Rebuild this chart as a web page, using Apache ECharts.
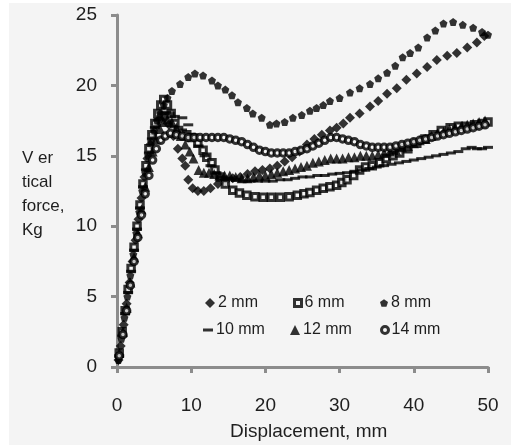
<!DOCTYPE html>
<html>
<head>
<meta charset="utf-8">
<script src="https://cdn.jsdelivr.net/npm/echarts@6/dist/echarts.min.js"></script>
<style>
  html, body { margin: 0; padding: 0; background: #fff; }
  #chart { width: 511px; height: 445px; }
</style>
</head>
<body>
<div id="chart"></div>
<script>
// displacement (mm), vertical force (Kg) pairs per bar spacing
var s2mm = [[0.2,0.5],[0.5,1.5],[0.9,3],[1.3,4.5],[1.7,6],[2.1,7.5],[2.5,9],[2.9,10.5],[3.3,12],[3.7,13.5],[4.1,14.8],[4.5,15.8],[4.9,16.6],[5.3,17.2],[5.8,17.6],[6.4,17.7],[7.0,17.2],[7.6,16.4],[8.2,15.5],[8.8,14.8],[9.2,14.3],[9.6,13.3],[10.2,12.7],[10.9,12.5],[11.7,12.5],[12.6,12.7],[13.6,13.0],[14.6,13.2],[15.6,13.4],[16.6,13.5],[17.6,13.7],[18.6,13.9],[19.6,14.0],[20.6,14.1],[21.6,14.3],[22.6,14.6],[23.6,14.9],[24.6,15.3],[25.6,15.8],[26.6,16.2],[27.6,16.5],[28.7,16.8],[29.6,17.0],[30.5,17.3],[31.4,17.7],[32.7,18.0],[34.1,18.5],[35.2,18.9],[36.4,19.4],[37.7,19.8],[39.0,20.4],[40.4,20.85],[41.8,21.3],[43.1,21.8],[44.5,22.1],[45.8,22.3],[47.2,22.7],[48.5,23.05],[49.5,23.5]];
var s6mm = [[0.3,1],[0.7,2.5],[1.1,4],[1.5,5.5],[1.9,7],[2.3,8.5],[2.7,10],[3.1,11.5],[3.5,13],[3.9,14.3],[4.3,15.5],[4.7,16.5],[5.1,17.3],[5.5,18],[5.9,18.6],[6.3,19.0],[6.8,18.6],[7.3,18.0],[7.8,17.3],[8.3,16.8],[8.8,16.6],[9.4,16.5],[10.0,16.3],[10.9,15.9],[11.6,15.4],[12.1,14.9],[12.8,14.5],[13.2,14.0],[13.9,13.5],[14.6,13.0],[15.6,12.55],[16.5,12.35],[17.5,12.2],[18.6,12.1],[19.7,12.05],[20.8,12.05],[22,12.05],[23.2,12.1],[24.3,12.2],[25.2,12.3],[26,12.4],[26.9,12.55],[27.8,12.7],[28.7,12.8],[29.6,12.9],[30.3,13.1],[31,13.3],[31.9,13.6],[32.7,14.0],[33.5,14.2],[34.4,14.3],[35.4,14.5],[36.3,14.8],[37.2,15.0],[38.1,15.2],[39.2,15.5],[40.4,15.9],[41.5,16.2],[42.6,16.5],[43.7,16.8],[44.9,17.0],[46,17.1],[47.1,17.1],[48.2,17.2],[49.2,17.3],[50,17.4]];
var s8mm = [[0.2,0.5],[0.6,2],[1,3.5],[1.4,5],[1.8,6.5],[2.2,8],[2.6,9.5],[3,11],[3.4,12.5],[3.8,13.8],[4.2,15],[4.6,16],[5,16.8],[5.4,17.5],[5.8,18],[6.3,18.6],[6.8,19.1],[7.4,19.6],[8.5,20.1],[9.6,20.6],[10.5,20.85],[11.6,20.7],[12.8,20.35],[13.6,20],[14.6,19.7],[15.5,19.3],[16.3,18.8],[17.5,18.4],[18.3,18],[19.5,17.7],[20.6,17.2],[21.5,17.3],[22.6,17.4],[23.7,17.7],[24.9,17.9],[26,18.2],[26.9,18.4],[27.8,18.6],[28.7,18.9],[30,19.1],[31.4,19.5],[32.7,19.8],[34.1,20.1],[35.2,20.5],[36.4,20.9],[37.5,21.4],[38.5,22],[39.5,22.3],[40.6,22.7],[41.8,23.4],[42.9,23.9],[44,24.4],[45.3,24.5],[46.6,24.3],[48,24.1],[49.2,23.8],[50,23.6]];
var s10mm = [[0.3,0.8],[0.7,2.2],[1.1,3.8],[1.5,5.3],[1.9,6.8],[2.3,8.3],[2.7,9.8],[3.1,11.3],[3.5,12.8],[3.9,14.0],[4.3,15.2],[4.7,16.2],[5.1,17.0],[5.6,17.6],[6.1,18.0],[6.6,18.1],[7.1,18.0],[7.8,17.8],[8.8,17.7],[9.6,17.2],[10.3,16.5],[11,15.7],[11.8,15.0],[12.6,14.3],[13.4,13.8],[14.2,13.5],[15,13.4],[16,13.3],[17,13.2],[18,13.2],[19,13.2],[20,13.2],[21,13.2],[22,13.3],[23,13.3],[24,13.4],[25,13.5],[26,13.5],[27,13.6],[28,13.6],[29,13.7],[30,13.75],[31,13.8],[32,13.9],[33,14.0],[34,14.1],[35,14.2],[36,14.3],[37,14.4],[38,14.5],[39,14.6],[40,14.7],[41,14.8],[42,14.9],[43,15.0],[44,15.1],[45,15.2],[46,15.3],[47,15.5],[47.8,15.6],[48.5,15.5],[49.2,15.5],[50,15.6]];
var s12mm = [[0.3,1],[0.8,2.5],[1.3,4.2],[1.8,6],[2.3,7.8],[2.8,9.5],[3.3,11.2],[3.8,12.8],[4.3,14.2],[4.8,15.3],[5.3,16.2],[5.8,16.9],[6.3,17.4],[6.8,17.6],[7.4,17.4],[8.0,17.0],[8.6,16.4],[9.2,15.8],[9.8,15.3],[10.3,14.8],[11,14.0],[11.7,13.8],[12.4,13.8],[13.1,13.7],[13.8,13.6],[14.5,13.6],[15.2,13.6],[16,13.5],[16.8,13.4],[17.6,13.4],[18.4,13.5],[19.2,13.6],[20,13.6],[20.8,13.7],[21.6,13.8],[22.4,13.9],[23.2,14.0],[24,14.1],[24.8,14.2],[25.6,14.3],[26.4,14.5],[27.2,14.6],[28,14.7],[28.8,14.8],[29.6,14.8],[30.4,14.8],[31.2,14.9],[32,14.9],[32.8,15.0],[33.6,15.0],[34.4,15.0],[35.2,15.1],[36,15.2],[36.8,15.3],[37.6,15.4],[38.4,15.6],[39.2,15.7],[40,15.9],[40.8,16.1],[41.6,16.2],[42.4,16.4],[43.2,16.6],[44,16.7],[44.8,16.9],[45.6,17.0],[46.4,17.1],[47.2,17.2],[48,17.3],[48.8,17.4],[49.6,17.5]];
var s14mm = [[0.3,0.8],[0.8,2.3],[1.3,4],[1.8,5.8],[2.3,7.5],[2.8,9.2],[3.3,10.8],[3.8,12.3],[4.3,13.6],[4.8,14.7],[5.3,15.5],[5.9,16.1],[6.5,16.4],[7.2,16.6],[8,16.5],[8.8,16.4],[9.6,16.3],[10.4,16.3],[11.2,16.3],[12,16.3],[12.8,16.3],[13.6,16.3],[14.4,16.3],[15.2,16.2],[16,16.1],[16.8,16.0],[17.6,15.8],[18.4,15.6],[19.2,15.4],[20,15.3],[20.8,15.2],[21.6,15.2],[22.4,15.2],[23.2,15.2],[24,15.3],[24.8,15.4],[25.6,15.5],[26.4,15.7],[27.2,15.9],[28,16.1],[28.8,16.3],[29.6,16.3],[30.4,16.2],[31.2,16.1],[32,16.0],[32.8,15.8],[33.6,15.7],[34.4,15.6],[35.2,15.6],[36,15.6],[36.8,15.6],[37.6,15.7],[38.4,15.8],[39.2,15.9],[40,16.0],[40.8,16.1],[41.6,16.2],[42.4,16.3],[43.2,16.4],[44,16.5],[44.8,16.6],[45.6,16.7],[46.4,16.8],[47.2,16.9],[48,17.0],[48.8,17.1],[49.6,17.2]];

var seriesNames = ['2 mm', '6 mm', '8 mm', '10 mm', '12 mm', '14 mm'];
var xTicks = [0, 10, 20, 30, 40, 50];
var yTicks = [0, 5, 10, 15, 20, 25];

var bg = '#f4f4f4';
var axisGrey = '#8c8c8c';
var txt = '#1e1e1e';
var font = 'Liberation Sans';
var pentagon = 'path://M0,-1 L0.95,-0.31 L0.59,0.81 L-0.59,0.81 L-0.95,-0.31 Z';

// symbol setup for each series
var marks = [
  {data: s2mm, symbol: 'diamond', size: 10, style: {color: '#000'}},
  {data: s6mm, symbol: 'rect', size: 6.5, style: {color: bg, borderColor: '#000', borderWidth: 3}},
  {data: s8mm, symbol: pentagon, size: 8, style: {color: '#000'}},
  {data: s10mm, symbol: 'rect', size: [10, 3], style: {color: '#000'}},
  {data: s12mm, symbol: 'triangle', size: 10, style: {color: '#000'}},
  {data: s14mm, symbol: 'circle', size: 6.5, style: {color: bg, borderColor: '#000', borderWidth: 3}}
];

var series = [];
marks.forEach(function(m, i){
  series.push({
    name: seriesNames[i],
    type: 'scatter',
    symbol: m.symbol,
    symbolSize: m.size,
    itemStyle: m.style,
    data: m.data,
    z: 3
  });
});

// one legend per entry so columns line up like the original
var legendPos = [
  {left: 205, top: 288, w: 10, h: 10},
  {left: 293, top: 288, w: 7, h: 7, bw: 3},
  {left: 380, top: 288, w: 8, h: 8},
  {left: 203, top: 315, w: 10, h: 3},
  {left: 290, top: 315, w: 10, h: 10},
  {left: 380, top: 315, w: 7, h: 7, bw: 3}
];
var legends = legendPos.map(function(p, i){
  var lg = {
    data: [seriesNames[i]],
    left: p.left,
    top: p.top,
    padding: 0,
    itemWidth: p.w,
    itemHeight: p.h,
    itemGap: 0,
    selectedMode: false,
    textStyle: {fontFamily: font, fontSize: 16, color: txt, lineHeight: 22, padding: [8, 0, 0, -2]}
  };
  if (p.bw) lg.itemStyle = {borderWidth: p.bw, borderColor: '#000'};
  return lg;
});

var chart = echarts.init(document.getElementById('chart'), null, {renderer: 'canvas'});
chart.setOption({
  backgroundColor: '#fff',
  animation: false,
  graphic: [
    {type: 'rect', z: -10, shape: {x: 9, y: 3, width: 502, height: 442}, style: {fill: bg}},
    {type: 'text', left: 22, top: 146, style: {
      text: 'V er\ntical\nforce,\nKg', align: 'center', x: 21, lineHeight: 24,
      fontFamily: font, fontSize: 17, fill: txt}},
    {type: 'text', left: 230, top: 422, style: {
      text: 'Displacement, mm', fontFamily: font, fontSize: 19, fill: txt}}
  ],
  grid: {left: 117, right: 23, top: 15, bottom: 78},
  legend: legends,
  xAxis: {
    type: 'value', min: xTicks[0], max: xTicks[xTicks.length - 1], interval: 10,
    splitLine: {show: false},
    axisLine: {lineStyle: {color: axisGrey, width: 3}},
    axisTick: {length: 6, lineStyle: {color: axisGrey, width: 3}},
    axisLabel: {margin: 29, fontFamily: font, fontSize: 19, color: txt}
  },
  yAxis: {
    type: 'value', min: yTicks[0], max: yTicks[yTicks.length - 1], interval: 5,
    splitLine: {show: false},
    axisLine: {lineStyle: {color: axisGrey, width: 3}},
    axisTick: {length: 6, lineStyle: {color: axisGrey, width: 3}},
    axisLabel: {margin: 20, fontFamily: font, fontSize: 19, color: txt}
  },
  series: series
});
</script>
</body>
</html>
